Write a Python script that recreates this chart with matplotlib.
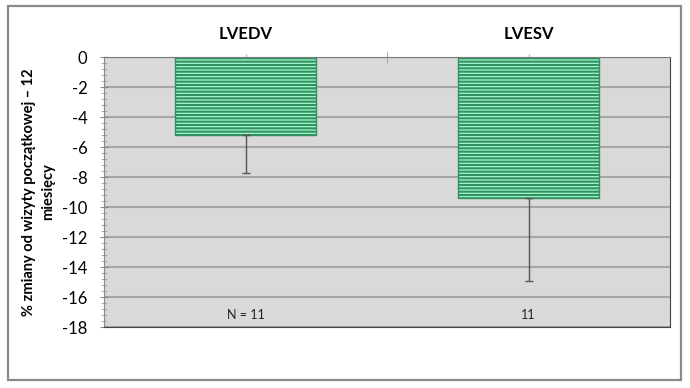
import numpy as np
import matplotlib
matplotlib.use("Agg")
import matplotlib.pyplot as plt
from matplotlib.patches import Rectangle
from matplotlib.ticker import MultipleLocator

# dane
kategorie = ["LVEDV", "LVESV"]
zmiana = [-5.2, -9.4]
blad = [2.5, 5.5]
n_opis = ["N = 11", "11"]
y_ticks = [0, -2, -4, -6, -8, -10, -12, -14, -16, -18]

plt.rcParams['font.family'] = ['Lato', 'DejaVu Sans']
plt.rcParams['axes.unicode_minus'] = False
plt.rcParams['hatch.linewidth'] = 1.5
plt.rcParams['hatch.color'] = '#2f9260'

fig = plt.figure(figsize=(6.9, 3.88), dpi=100)
ax = fig.add_axes([104 / 690, 1 - 327 / 388, 566 / 690, 270 / 388])

# ramka całego wykresu
fig.patches.append(Rectangle((8 / 690, 1 - 380 / 388), 673 / 690, 374 / 388,
                             transform=fig.transFigure, fill=False,
                             edgecolor='#8a8a8a', linewidth=1.6))

x = np.arange(len(kategorie))
ax.set_facecolor('#d9d9d9')
ax.bar(x, zmiana, width=0.5, color='#a6f4cb', edgecolor='#2f9260',
       linewidth=1.0, hatch='-----', zorder=2)
ax.errorbar(x, zmiana, yerr=[blad, [0, 0]], fmt='none', ecolor='#555555',
            elinewidth=1.0, capsize=3, capthick=1.0, zorder=3)

for xi, t in zip(x, n_opis):
    ax.text(xi, -17.2, t, ha='center', va='center', fontsize=9, color='#222222')

ax.set_xlim(-0.5, 1.5)
ax.set_ylim(-18, 0)
ax.set_yticks(y_ticks)
ax.yaxis.set_minor_locator(MultipleLocator(0.4))
ax.yaxis.grid(True, color='#a6a6a6', linewidth=1.5, zorder=1)
ax.set_axisbelow(True)
ax.tick_params(axis='y', which='major', labelsize=12, direction='inout',
               length=6, color='#8a8a8a', pad=9)
ax.tick_params(axis='y', which='minor', direction='inout', length=4,
               color='#a0a0a0')

ax.xaxis.tick_top()
ax.set_xticks(x)
ax.set_xticklabels(kategorie, fontweight='bold', fontsize=12)
ax.set_xticks([0.5], minor=True)
ax.tick_params(axis='x', which='major', direction='inout', length=5,
               color='#b0b0b0', pad=8, top=True, bottom=False)
ax.tick_params(axis='x', which='minor', direction='inout', length=9,
               color='#a0a0a0', top=True, bottom=False)

ax.spines['top'].set_color('#7a7a7a')
ax.spines['left'].set_color('#8a8a8a')
ax.spines['right'].set_color('#444444')
ax.spines['bottom'].set_color('#444444')

ax.set_ylabel("% zmiany od wizyty początkowej – 12\nmiesięcy",
              fontweight='bold', fontsize=10.5, labelpad=5, linespacing=1.5)

fig.savefig("out.png", dpi=100)
